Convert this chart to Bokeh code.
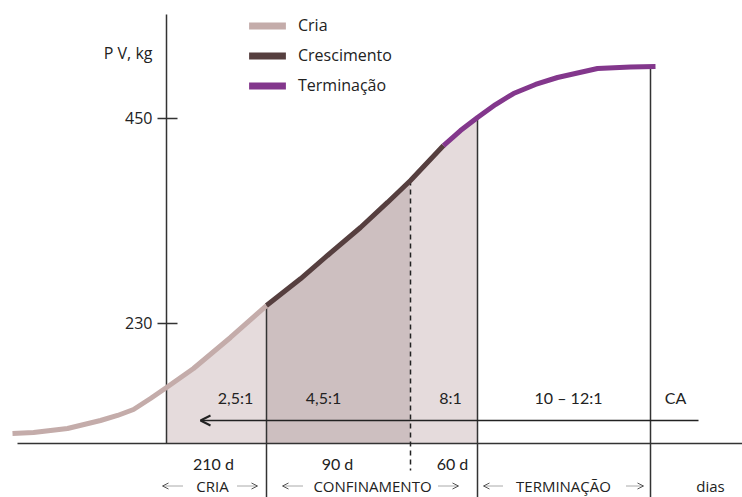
import numpy as np
from bokeh.plotting import figure
from bokeh.models import Range1d, Arrow, OpenHead, Legend, LegendItem
from bokeh.core.properties import value
from bokeh.embed import file_html
from bokeh.resources import INLINE

# ---- data (x = schematic position along the time axis, y = live weight in kg) ----
cria_x = [12, 33, 67, 100, 117, 133, 150, 166, 193, 230, 266]
cria_kg = [111.9, 113.0, 117.3, 125.9, 131.3, 137.7, 149.5, 161.3, 181.7, 215.0, 249.3]
cresc_x = [266, 300, 327, 360, 387, 410, 443]
cresc_kg = [249.3, 278.0, 303.0, 333.0, 359.9, 383.5, 421.0]
term_x = [443, 460, 477, 495, 513, 535, 557, 597, 630, 655]
term_kg = [421.0, 437.1, 451.1, 465.0, 476.8, 486.5, 494.0, 503.7, 505.3, 505.8]

y_ticks = [230, 450]
y_tick_labels = ["230", "450"]
y_axis_label = "P V, kg"

phase_bounds = [166, 266, 410, 477, 650]      # axis, cria|conf, dashed, conf|term, end
ratio_labels = ["2,5:1", "4,5:1", "8:1", "10 \u2013 12:1", "CA"]
ratio_x = [235, 323, 450, 568, 675]
day_labels = ["210 d", "90 d", "60 d"]
day_x = [213, 337, 452]
phase_names = ["CRIA", "CONFINAMENTO", "TERMINA\u00c7\u00c3O"]
phase_name_x = [212, 372, 563]
phase_arrow_left = [(182, 162), (302, 282), (502, 483)]
phase_arrow_right = [(237, 257), (438, 458), (626, 643)]
unit_label = "dias"
unit_x = 710

legend_labels = ["Cria", "Crescimento", "Termina\u00e7\u00e3o"]
colors = ["#c4acaa", "#563f3f", "#83378c"]
fill_light = "#e5dbdc"
fill_dark = "#cdbfc0"
ink = "#333333"
txt = "#222222"

baseline_kg = 101.2
axis_top_kg = 561.6
dashed_bottom_kg = 72.2
ratio_y = 150.6
arrow_y = 125.9
days_y = 79.8
names_y = 55.6
ylabel_kg = 519.8

# ---- figure ----
p = figure(width=742, height=497, output_backend="svg", toolbar_location=None,
           x_range=Range1d(0, 742), y_range=Range1d(43.27, 576.63),
           min_border=0, outline_line_color=None)
p.axis.visible = False
p.grid.visible = False
p.background_fill_color = "white"

curve_x = np.array(cria_x + cresc_x[1:] + term_x[1:], dtype=float)
curve_kg = np.array(cria_kg + cresc_kg[1:] + term_kg[1:], dtype=float)

def region(a, b):
    xs = [a] + [x for x in curve_x if a < x < b] + [b]
    return xs, np.interp(xs, curve_x, curve_kg)

for (a, b), c in zip([(phase_bounds[0], phase_bounds[1]),
                      (phase_bounds[1], phase_bounds[2]),
                      (phase_bounds[2], phase_bounds[3])],
                     [fill_light, fill_dark, fill_light]):
    xs, ys = region(a, b)
    p.varea(x=xs, y1=[baseline_kg] * len(xs), y2=ys, fill_color=c)

# baseline (time axis)
p.segment(x0=[17], y0=[baseline_kg], x1=[745], y1=[baseline_kg], line_color=ink, line_width=1.5)
# y axis
p.segment(x0=[phase_bounds[0]], y0=[baseline_kg], x1=[phase_bounds[0]], y1=[axis_top_kg],
          line_color=ink, line_width=1.5)
p.segment(x0=[157] * len(y_ticks), y0=y_ticks, x1=[177] * len(y_ticks), y1=y_ticks,
          line_color=ink, line_width=1.5)
p.text(x=[152] * len(y_ticks), y=y_ticks, text=y_tick_labels, text_align="right",
       text_baseline="middle", text_font=value("Open Sans"), text_font_size="16px",
       text_color=txt)
p.text(x=[152], y=[ylabel_kg], text=[y_axis_label], text_align="right",
       text_baseline="middle", text_font=value("Open Sans"), text_font_size="16px",
       text_color=txt)

# phase boundary verticals
solid_x = [phase_bounds[1], phase_bounds[3], phase_bounds[4]]
p.segment(x0=solid_x, y0=list(np.interp(solid_x, curve_x, curve_kg)), x1=solid_x,
          y1=[30] * 3, line_color=ink, line_width=1.5)
p.segment(x0=[phase_bounds[2]], y0=[float(np.interp(phase_bounds[2], curve_x, curve_kg))],
          x1=[phase_bounds[2]], y1=[dashed_bottom_kg], line_color=txt,
          line_width=1.5, line_dash="5 4")

# growth curve
p.line(cria_x, cria_kg, line_color=colors[0], line_width=5)
p.line(cresc_x, cresc_kg, line_color=colors[1], line_width=5)
p.line(term_x, term_kg, line_color=colors[2], line_width=5)

# CA arrow
p.add_layout(Arrow(end=OpenHead(size=10, line_width=2, line_color=txt),
                   x_start=698, y_start=arrow_y, x_end=200, y_end=arrow_y,
                   line_color=txt, line_width=1.5))

# texts
p.text(x=ratio_x, y=[ratio_y] * len(ratio_x), text=ratio_labels, text_align="center",
       text_baseline="middle", text_font=value("Lato"), text_font_size="16px",
       text_color=txt)
p.text(x=day_x, y=[days_y] * len(day_x), text=day_labels, text_align="center",
       text_baseline="middle", text_font=value("Lato"), text_font_size="16px",
       text_color=txt)
p.text(x=phase_name_x, y=[names_y] * len(phase_name_x), text=phase_names,
       text_align="center", text_baseline="middle", text_font=value("Open Sans"),
       text_font_size="15px", text_color=txt)
p.text(x=[unit_x], y=[names_y], text=[unit_label], text_align="center",
       text_baseline="middle", text_font=value("Open Sans"), text_font_size="15px",
       text_color=txt)
for xs, xe in phase_arrow_left + phase_arrow_right:
    p.add_layout(Arrow(end=OpenHead(size=6, line_width=1, line_color="#555555"),
                       x_start=xs, y_start=names_y, x_end=xe, y_end=names_y,
                       line_color="#555555", line_width=1, line_dash="1 1"))

# legend (swatches drawn from renderers that hold no visible mark)
dummies = [p.quad(left=[np.nan], right=[np.nan], top=[np.nan], bottom=[np.nan],
                  fill_color=c, line_color=None) for c in colors]
legend = Legend(items=[LegendItem(label=l, renderers=[r]) for l, r in zip(legend_labels, dummies)],
                location=(244, 401), glyph_width=46, glyph_height=9, label_standoff=8,
                spacing=8, padding=0, margin=0, border_line_alpha=0,
                background_fill_alpha=0, label_text_font="Open Sans",
                label_text_font_size="16px", label_text_color=txt, label_height=20)
p.add_layout(legend)

open("out.html", "w").write(file_html(p, INLINE))
